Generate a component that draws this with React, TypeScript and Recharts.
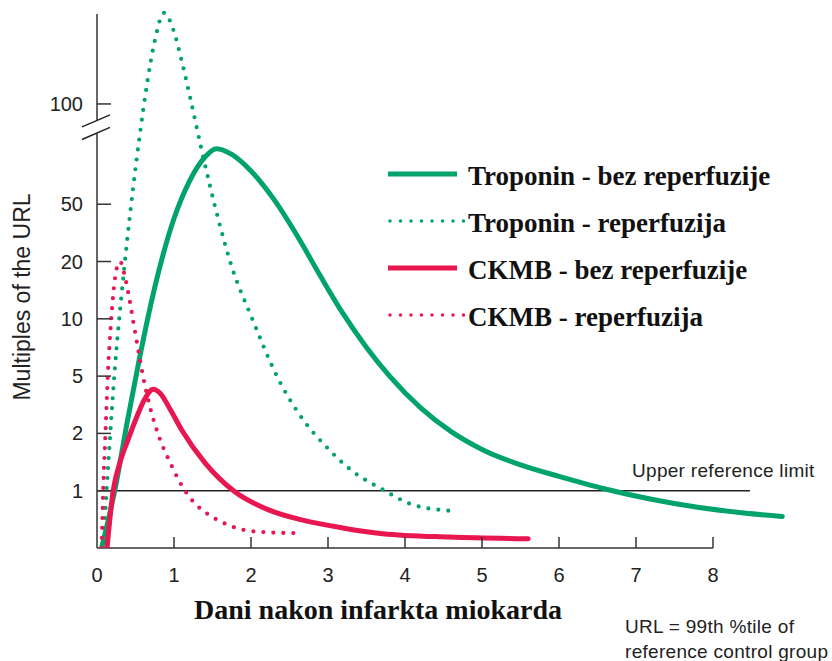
import React from 'react';
import { LineChart, Line, XAxis, YAxis, ReferenceLine } from 'recharts';

// Levels are read as positions on the (broken) y axis, in tick steps:
// -1 = baseline, 0 = 1x URL, 1 = 2x, 2 = 5x, 3 = 10x, 4 = 20x, 5 = 50x, 6.75 = 100x (above the break)
const Y_TICK_STEPS = [0, 1, 2, 3, 4, 5, 6.75];
const Y_TICK_LABELS = ['1', '2', '5', '10', '20', '50', '100'];
const X_TICKS = [0, 1, 2, 3, 4, 5, 6, 7, 8];

const TROP_BEZ_DAY = [0.06, 0.23, 0.4, 0.55, 0.75, 1.0, 1.2, 1.4, 1.55, 1.75, 2.0, 2.3, 2.6, 2.9, 3.2, 3.5, 3.8, 4.2, 4.6, 5.0, 5.5, 6.0, 6.6, 7.2, 7.8, 8.4, 8.9];
const TROP_BEZ_LEVEL = [-1, 0, 1.25, 2.3, 3.55, 4.75, 5.4, 5.82, 5.97, 5.87, 5.58, 5.08, 4.45, 3.75, 3.08, 2.5, 2.0, 1.45, 1.03, 0.72, 0.45, 0.25, 0.03, -0.15, -0.29, -0.39, -0.45];

const TROP_REP_DAY = [0.08, 0.12, 0.17, 0.23, 0.31, 0.39, 0.47, 0.56, 0.65, 0.75, 0.87, 0.99, 1.1, 1.22, 1.35, 1.6, 1.75, 2.01, 2.34, 2.66, 2.99, 3.29, 3.71, 4.09, 4.58];
const TROP_REP_LEVEL = [-1, -0.1, 0.95, 2.1, 3.3, 4.35, 5.3, 6.25, 7.1, 7.85, 8.34, 8.05, 7.5, 6.8, 6.0, 4.61, 3.91, 3.02, 1.99, 1.27, 0.75, 0.37, 0.02, -0.24, -0.35];

const CKMB_BEZ_DAY = [0.13, 0.21, 0.3, 0.4, 0.52, 0.62, 0.73, 0.82, 0.95, 1.1, 1.4, 1.79, 2.22, 2.66, 3.19, 3.71, 4.58, 5.6];
const CKMB_BEZ_LEVEL = [-1, 0, 0.5, 0.88, 1.3, 1.6, 1.77, 1.7, 1.42, 1.06, 0.49, -0.02, -0.33, -0.51, -0.65, -0.75, -0.81, -0.84];

const CKMB_REP_DAY = [0.06, 0.08, 0.11, 0.14, 0.18, 0.22, 0.26, 0.3, 0.36, 0.42, 0.48, 0.55, 0.62, 0.69, 0.82, 0.95, 1.08, 1.23, 1.43, 1.64, 1.86, 2.14, 2.55];
const CKMB_REP_LEVEL = [-1, 0, 1.0, 2.0, 2.9, 3.55, 3.9, 4.0, 3.75, 3.35, 2.88, 2.35, 1.85, 1.45, 0.89, 0.49, 0.14, -0.16, -0.4, -0.56, -0.67, -0.72, -0.74];

const URL_LIMIT_END = 8.48;
const AXIS_BREAK = [
  [{ x: -0.195, y: 6.35 }, { x: 0.169, y: 6.56 }],
  [{ x: -0.195, y: 6.13 }, { x: 0.169, y: 6.34 }],
];

const GREEN = '#00a36b';
const RED = '#e8174f';
const SANS = '"Liberation Sans", Arial, Helvetica, sans-serif';
const SERIF = '"Liberation Serif", "Times New Roman", serif';

const toRows = (days: number[], levels: number[]) => days.map((d, i) => ({ day: d, level: levels[i] }));

const SERIES = [
  { key: 'tb', name: 'Troponin - bez reperfuzije', color: GREEN, dotted: false, rows: toRows(TROP_BEZ_DAY, TROP_BEZ_LEVEL) },
  { key: 'tr', name: 'Troponin - reperfuzija', color: GREEN, dotted: true, rows: toRows(TROP_REP_DAY, TROP_REP_LEVEL) },
  { key: 'cb', name: 'CKMB - bez reperfuzije', color: RED, dotted: false, rows: toRows(CKMB_BEZ_DAY, CKMB_BEZ_LEVEL) },
  { key: 'cr', name: 'CKMB - reperfuzija', color: RED, dotted: true, rows: toRows(CKMB_REP_DAY, CKMB_REP_LEVEL) },
];

const XTick = (props: any) => {
  const { x, y, payload } = props;
  return (
    <g>
      {payload.value > 0 && <line x1={x} y1={y} x2={x} y2={y - 11} stroke="#333" strokeWidth={1.5} />}
      <text x={x} y={y + 34} textAnchor="middle" fontFamily={SANS} fontSize={20} fill="#222">
        {payload.value}
      </text>
    </g>
  );
};

const YTick = (props: any) => {
  const { x, y, payload } = props;
  const label = Y_TICK_LABELS[Y_TICK_STEPS.indexOf(payload.value)];
  return (
    <g>
      <line x1={x} y1={y} x2={x + 14} y2={y} stroke="#333" strokeWidth={1.5} />
      <text x={x - 14} y={y + 7} textAnchor="end" fontFamily={SANS} fontSize={20} fill="#222">
        {label}
      </text>
    </g>
  );
};

// legend box, drawn inside the chart svg
const LegendBox = ({ left, top }: { left: number; top: number }) => (
  <g transform={`translate(${left},${top})`}>
    {SERIES.map((s, i) => {
      const cy = 24 + i * 47;
      return (
        <g key={s.key}>
          {s.dotted ? (
            <line x1={10} y1={cy} x2={86} y2={cy} stroke={s.color} strokeWidth={3.5} strokeDasharray="0 10.5" strokeLinecap="round" />
          ) : (
            <line x1={8} y1={cy} x2={77} y2={cy} stroke={s.color} strokeWidth={5} />
          )}
          <text x={88} y={cy + 11} fontFamily={SERIF} fontWeight="bold" fontSize={27} fill="#111">
            {s.name}
          </text>
        </g>
      );
    })}
  </g>
);

export default function App() {
  return (
    <div style={{ position: 'absolute', left: 0, top: 0, background: '#fff' }}>
      <LineChart width={832} height={661} margin={{ top: 9.4, right: 42, bottom: 83, left: 0 }}>
        <XAxis
          type="number"
          dataKey="day"
          domain={[0, 9]}
          ticks={X_TICKS}
          interval={0}
          allowDataOverflow
          axisLine={false}
          tickLine={false}
          tickSize={0}
          tickMargin={0}
          height={30}
          tick={<XTick />}
        />
        <YAxis
          type="number"
          domain={[-1, 8.4]}
          ticks={Y_TICK_STEPS}
          interval={0}
          allowDataOverflow
          axisLine={false}
          tickLine={false}
          tickSize={0}
          tickMargin={0}
          width={97}
          tick={<YTick />}
        />

        {/* axes drawn by hand so the y axis can carry its break */}
        <ReferenceLine segment={[{ x: 0, y: -1 }, { x: 8, y: -1 }]} stroke="#333" strokeWidth={1.5} ifOverflow="visible" />
        <ReferenceLine segment={[{ x: 0, y: -1 }, { x: 0, y: 6.24 }]} stroke="#333" strokeWidth={1.5} ifOverflow="visible" />
        <ReferenceLine segment={[{ x: 0, y: 6.46 }, { x: 0, y: 8.32 }]} stroke="#333" strokeWidth={1.5} ifOverflow="visible" />
        {AXIS_BREAK.map((seg, i) => (
          <ReferenceLine key={i} segment={seg} stroke="#222" strokeWidth={1.5} ifOverflow="visible" />
        ))}

        {/* upper reference limit (1x URL) */}
        <ReferenceLine segment={[{ x: 0, y: 0 }, { x: URL_LIMIT_END, y: 0 }]} stroke="#222" strokeWidth={1.5} ifOverflow="visible" />

        {SERIES.map((s) => (
          <Line
            key={s.key}
            name={s.name}
            data={s.rows}
            dataKey="level"
            type="monotone"
            stroke={s.color}
            strokeWidth={s.dotted ? 4.2 : 5}
            strokeDasharray={s.dotted ? '0 10' : undefined}
            strokeLinecap="round"
            dot={false}
            activeDot={false}
            isAnimationActive={false}
          />
        ))}

        <LegendBox left={380} top={150} />

        <text x={30} y={297} transform="rotate(-90 30 297)" textAnchor="middle" fontFamily={SANS} fontSize={23} fill="#222">
          Multiples of the URL
        </text>
        <text x={378} y={619} textAnchor="middle" fontFamily={SERIF} fontWeight="bold" fontSize={28} fill="#111">
          Dani nakon infarkta miokarda
        </text>
        <text x={632} y={477} fontFamily={SANS} fontSize={19} letterSpacing={0.3} fill="#222">
          Upper reference limit
        </text>
        <text x={625} y={633} fontFamily={SANS} fontSize={19} letterSpacing={0.3} fill="#222">
          URL = 99th %tile of
        </text>
        <text x={625} y={658} fontFamily={SANS} fontSize={19} letterSpacing={0.3} fill="#222">
          reference control group
        </text>
      </LineChart>
    </div>
  );
}
